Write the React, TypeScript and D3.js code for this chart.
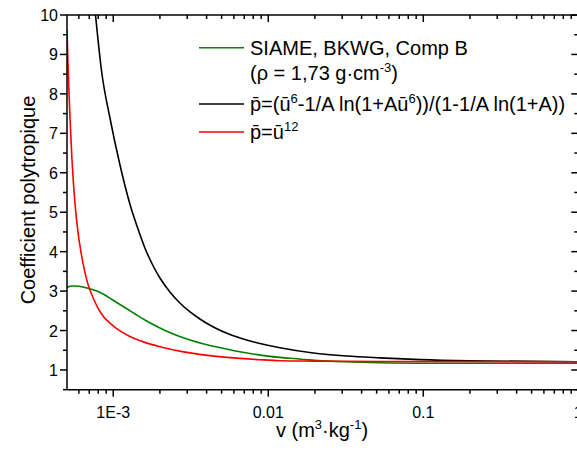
import React from "react";
import * as d3 from "d3";

const W = 577;
const H = 457;

// [v (m3/kg), polytropic coefficient]
const greenSeries: [number, number][] = [
  [5.03e-4, 3.093], [5.41e-4, 3.129], [5.83e-4, 3.129], [6.37e-4, 3.104], [7.07e-4, 3.058],
  [7.85e-4, 3.002], [8.71e-4, 2.913], [9.81e-4, 2.787], [1.105e-3, 2.66], [1.244e-3, 2.533],
  [1.4e-3, 2.406], [1.6e-3, 2.267], [1.86e-3, 2.127], [2.16e-3, 2.001], [2.58e-3, 1.874],
  [3.13e-3, 1.76], [3.79e-3, 1.666], [4.67e-3, 1.582], [5.92e-3, 1.494], [7.62e-3, 1.417],
  [1.026e-2, 1.346], [1.38e-2, 1.296], [2.0e-2, 1.245], [3.13e-2, 1.207], [5.26e-2, 1.184],
  [0.11, 1.172], [1, 1.169],
];

const blackSeries: [number, number][] = [
  [7.51e-4, 10.38], [7.7e-4, 9.957], [8.42e-4, 8.555], [9.52e-4, 7.388], [1.105e-3, 6.197],
  [1.28e-3, 5.208], [1.49e-3, 4.422], [1.6e-3, 4.092], [1.81e-3, 3.636], [2.0e-3, 3.332],
  [2.32e-3, 2.977], [2.69e-3, 2.698], [3.13e-3, 2.47], [3.62e-3, 2.292], [4.42e-3, 2.089],
  [5.66e-3, 1.899], [7.25e-3, 1.76], [8.84e-3, 1.671], [1.19e-2, 1.562], [1.95e-2, 1.43],
  [3.21e-2, 1.354], [5.26e-2, 1.308], [9.52e-2, 1.263], [0.2, 1.232], [1, 1.207],
];

const redSeries: [number, number][] = [
  [5.03e-4, 9.62], [5.1e-4, 8.81], [5.18e-4, 8.05], [5.26e-4, 7.39], [5.41e-4, 6.37],
  [5.66e-4, 5.23], [5.92e-4, 4.5], [6.19e-4, 3.99], [6.47e-4, 3.59], [6.77e-4, 3.26],
  [7.07e-4, 3.03], [7.51e-4, 2.78], [7.97e-4, 2.57], [8.71e-4, 2.34], [9.52e-4, 2.19],
  [1.105e-3, 1.99], [1.28e-3, 1.85], [1.6e-3, 1.7], [2.0e-3, 1.59], [3.27e-3, 1.42],
  [5.42e-3, 1.32], [8.84e-3, 1.26], [1.19e-2, 1.235], [1.94e-2, 1.225], [5.26e-2, 1.215],
  [1, 1.21],
];

const xMajor = [1e-3, 1e-2, 1e-1, 1];
const xMajorLabels = ["1E-3", "0.01", "0.1", "1"];
const yMajor = [1, 2, 3, 4, 5, 6, 7, 8, 9, 10];
const xDomain: [number, number] = [5.03e-4, 1];
const yDomain: [number, number] = [0.5, 10];

const FONT = "'Liberation Sans', Arial, sans-serif";

export default function App() {
  const left = 67, right = 578.3, top = 15, bottom = 389.7;
  const x = d3.scaleLog().domain(xDomain).range([left, right]);
  const y = d3.scaleLinear().domain(yDomain).range([bottom, top]);

  const xMinor: number[] = [];
  for (const dec of [1e-4, 1e-3, 1e-2, 1e-1]) {
    for (let k = 2; k <= 9; k++) {
      const v = dec * k;
      if (v >= xDomain[0] * 0.999 && v <= 1 && !xMajor.includes(v)) xMinor.push(v);
    }
  }
  const yMinor: number[] = [];
  for (let v = 0.5; v <= 10; v += 1) yMinor.push(v);

  const line = d3
    .line<[number, number]>()
    .x((d) => x(d[0]))
    .y((d) => y(d[1]))
    .curve(d3.curveMonotoneX);

  const ax = { stroke: "#000", strokeWidth: 1.5 };
  const legX1 = 199, legX2 = 244, legT = 250;

  return (
    <svg
      width={W}
      height={H}
      style={{ position: "fixed", left: 0, top: 0, background: "#fff" }}
      fontFamily={FONT}
    >
      <defs>
        <clipPath id="plot">
          <rect x={left} y={top} width={right - left} height={bottom - top} />
        </clipPath>
      </defs>
      <rect width={W} height={H} fill="#fff" />

      <g clipPath="url(#plot)" fill="none" strokeWidth={1.6}>
        <path d={line(greenSeries) || ""} stroke="#008000" />
        <path d={line(blackSeries) || ""} stroke="#000" />
        <path d={line(redSeries) || ""} stroke="#ff0000" />
      </g>

      {/* frame */}
      <line x1={left} x2={left} y1={top} y2={bottom} {...ax} />
      <line x1={left} x2={right} y1={bottom} y2={bottom} {...ax} />
      <line x1={left} x2={right} y1={top} y2={top} {...ax} />
      <line x1={right} x2={right} y1={top} y2={bottom} {...ax} />

      {/* x ticks */}
      {xMajor.map((v) => (
        <g key={"xm" + v}>
          <line x1={x(v)} x2={x(v)} y1={bottom} y2={bottom + 7} {...ax} />
          <line x1={x(v)} x2={x(v)} y1={top} y2={top + 7} {...ax} />
        </g>
      ))}
      {xMinor.map((v) => (
        <g key={"xn" + v}>
          <line x1={x(v)} x2={x(v)} y1={bottom} y2={bottom + 4} {...ax} />
          <line x1={x(v)} x2={x(v)} y1={top} y2={top + 4} {...ax} />
        </g>
      ))}
      {xMajor.map((v, i) => (
        <text key={"xl" + v} x={x(v)} y={418} fontSize={16} textAnchor="middle">
          {xMajorLabels[i]}
        </text>
      ))}

      {/* y ticks */}
      {yMajor.map((v) => (
        <g key={"ym" + v}>
          <line x1={left - 7} x2={left} y1={y(v)} y2={y(v)} {...ax} />
          <line x1={right - 7} x2={right} y1={y(v)} y2={y(v)} {...ax} />
          <text x={58} y={y(v) + 6} fontSize={16} textAnchor="end">
            {v}
          </text>
        </g>
      ))}
      {yMinor.map((v) => (
        <g key={"yn" + v}>
          <line x1={left - 4} x2={left} y1={y(v)} y2={y(v)} {...ax} />
          <line x1={right - 4} x2={right} y1={y(v)} y2={y(v)} {...ax} />
        </g>
      ))}

      {/* axis titles */}
      <text x={322} y={437} fontSize={20} textAnchor="middle">
        v (m<tspan fontSize={13} dy={-8}>3</tspan>
        <tspan dy={8}>·kg</tspan>
        <tspan fontSize={13} dy={-8}>-1</tspan>
        <tspan dy={8}>)</tspan>
      </text>
      <text
        transform={`translate(35,200) rotate(-90)`}
        fontSize={20}
        textAnchor="middle"
      >
        Coefficient polytropique
      </text>

      {/* legend */}
      <line x1={legX1} x2={legX2} y1={47.7} y2={47.7} stroke="#008000" strokeWidth={1.6} />
      <text x={legT} y={55} fontSize={20}>SIAME, BKWG, Comp B</text>
      <text x={legT} y={80} fontSize={20}>
        (ρ = 1,73 g·cm<tspan fontSize={13} dy={-8}>-3</tspan>
        <tspan dy={8}>)</tspan>
      </text>
      <line x1={legX1} x2={legX2} y1={104} y2={104} stroke="#000" strokeWidth={1.6} />
      <text x={legT} y={111} fontSize={20}>
        {"p\u0304=(ū"}
        <tspan fontSize={13} dy={-8}>6</tspan>
        <tspan dy={8}>-1/A ln(1+Aū</tspan>
        <tspan fontSize={13} dy={-8}>6</tspan>
        <tspan dy={8}>))/(1-1/A ln(1+A))</tspan>
      </text>
      <line x1={legX1} x2={legX2} y1={132} y2={132} stroke="#ff0000" strokeWidth={1.6} />
      <text x={legT} y={139} fontSize={20}>
        {"p\u0304=ū"}
        <tspan fontSize={13} dy={-8}>12</tspan>
      </text>
    </svg>
  );
}
